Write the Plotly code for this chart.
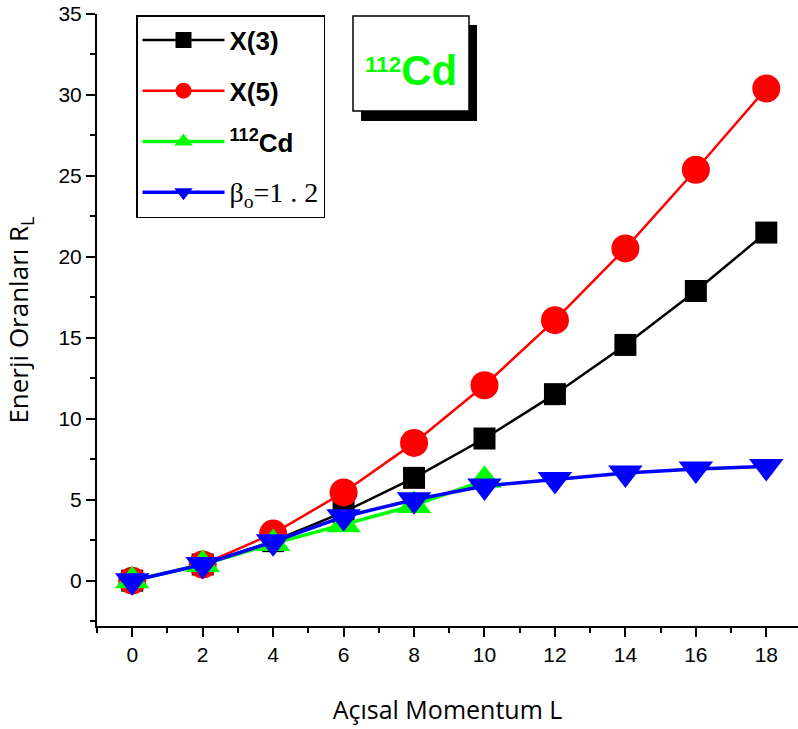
import plotly.graph_objects as go

L = [0, 2, 4, 6, 8, 10, 12, 14, 16, 18]
x3 = [0, 1, 2.44, 4.23, 6.35, 8.78, 11.52, 14.56, 17.89, 21.5]
x5 = [0, 1, 2.91, 5.45, 8.51, 12.07, 16.09, 20.52, 25.38, 30.4]
L_cd = [0, 2, 4, 6, 8, 10]
cd112 = [0, 1, 2.29, 3.45, 4.65, 6.2]
beta12 = [0, 1, 2.4, 3.95, 5.0, 5.85, 6.25, 6.65, 6.9, 7.05]

W, H = 798, 729
ML, MR, MT, MB = 97, 0, 14, 103
PW, PH = W - ML - MR, H - MT - MB

def px(x):
    return (x - ML) / PW

def py(y):
    return (H - MB - y) / PH

fig = go.Figure()
fig.add_trace(go.Scatter(x=L, y=x3, mode="lines+markers", name="<b>X(3)</b>",
                         legendgroup="a",
                         line=dict(color="black", width=2.5),
                         marker=dict(symbol="square", size=22, color="black")))
fig.add_trace(go.Scatter(x=L, y=x5, mode="lines+markers", name="<b>X(5)</b>",
                         legendgroup="b",
                         line=dict(color="#ff0000", width=2.5),
                         marker=dict(symbol="circle", size=28, color="#ff0000")))
fig.add_trace(go.Scatter(x=L_cd, y=cd112, mode="lines+markers", name="<b><sup>112</sup>Cd</b>",
                         legendgroup="c",
                         line=dict(color="#00ff00", width=3.5),
                         marker=dict(symbol="triangle-up", size=30, color="#00ff00")))
fig.add_trace(go.Scatter(x=L, y=beta12, mode="lines+markers",
                         name="<span style='font-family:Liberation Serif;font-size:28px'>β<sub>o</sub>=1 . 2</span>",
                         legendgroup="d",
                         line=dict(color="#0000ff", width=3.5),
                         marker=dict(symbol="triangle-down", size=30, color="#0000ff")))

tickfont = dict(family="Liberation Sans Narrow, Arial Narrow, Arial", size=21, color="black")

fig.update_layout(
    width=W, height=H,
    margin=dict(l=ML, r=MR, t=MT, b=MB),
    paper_bgcolor="white", plot_bgcolor="white",
    showlegend=True,
    legend=dict(x=px(136), y=py(15), xanchor="left", yanchor="top",
                bgcolor="white", bordercolor="black", borderwidth=1.5,
                font=dict(family="Liberation Sans, Arial", size=26, color="black"),
                tracegroupgap=14, itemwidth=82, itemsizing="trace"),
    xaxis=dict(range=[-1, 18.9], showgrid=False, zeroline=False,
               showline=True, linecolor="black", linewidth=2,
               ticks="outside", ticklen=9, tickwidth=2, tickcolor="black",
               tickvals=[0, 2, 4, 6, 8, 10, 12, 14, 16, 18],
               minor=dict(ticks="outside", ticklen=5, tickwidth=2, tickcolor="black", dtick=1, tick0=-1),
               tickfont=tickfont,
               title=dict(text="Açısal Momentum L", font=dict(family="Open Sans", size=25, color="black"),
                          standoff=36)),
    yaxis=dict(range=[-2.8, 35], showgrid=False, zeroline=False,
               showline=True, linecolor="black", linewidth=2,
               ticks="outside", ticklen=9, tickwidth=2, tickcolor="black",
               tickvals=[0, 5, 10, 15, 20, 25, 30, 35],
               minor=dict(ticks="outside", ticklen=5, tickwidth=2, tickcolor="black", dtick=2.5, tick0=0),
               tickfont=tickfont,
               title=dict(text="Enerji Oranları R<sub>L</sub>", font=dict(family="Open Sans", size=26, color="black"),
                          standoff=22)),
)

# "112Cd" label box with drop shadow
fig.add_shape(type="rect", xref="paper", yref="paper",
              x0=px(361), x1=px(477), y0=py(121), y1=py(25),
              fillcolor="black", line=dict(width=0))
fig.add_shape(type="rect", xref="paper", yref="paper",
              x0=px(353), x1=px(469), y0=py(111), y1=py(16),
              fillcolor="white", line=dict(color="black", width=1.5))
fig.add_annotation(xref="paper", yref="paper", x=px(411), y=py(70),
                   text="<b><span style='font-size:32px'><sup>112</sup></span>Cd</b>",
                   showarrow=False, font=dict(family="Liberation Sans, Arial", size=42, color="#00ff00"),
                   xanchor="center", yanchor="middle")

fig.write_html("out.html")
